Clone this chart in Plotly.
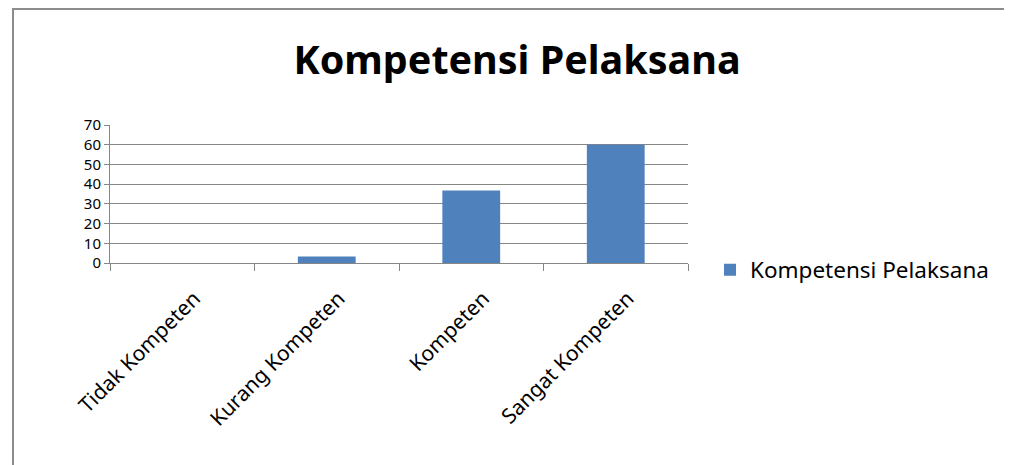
import plotly.graph_objects as go

categories = ["Tidak Kompeten", "Kurang Kompeten", "Kompeten", "Sangat Kompeten"]
values = [0, 3.3, 36.8, 60]
series_name = "Kompetensi Pelaksana"
title_text = "Kompetensi Pelaksana"

# page body adds an 8px offset; positions below are in figure coordinates
W, H = 1012, 465
OFF = 8
L, T = 110 - OFF, 125 - OFF
PR, PB = 688 - OFF, 263 - OFF
R, B = W - PR, H - PB
pw, ph = PR - L, PB - T

def px_x(x):
    return (x - OFF - L) / pw

def px_y(y):
    return (PB - (y - OFF)) / ph

fig = go.Figure()
fig.add_trace(go.Bar(
    x=categories, y=values, name=series_name,
    marker=dict(color="#4F81BD", line=dict(width=0)),
    showlegend=True,
))

fig.update_layout(
    width=W, height=H,
    margin=dict(l=L, r=R, t=T, b=B, autoexpand=False),
    paper_bgcolor="white", plot_bgcolor="white",
    bargap=0.6,
    font=dict(family="Noto Sans, DejaVu Sans, sans-serif", size=15, color="#000"),
    title=dict(text="<b>" + title_text + "</b>",
               x=(517 - OFF) / W, xanchor="center",
               y=1 - (60 - OFF) / H, yanchor="middle",
               font=dict(size=39.5, family="Noto Sans, sans-serif", color="#000")),
    showlegend=True,
    legend=dict(x=px_x(710), xanchor="left", y=px_y(270), yanchor="middle",
                font=dict(size=22.5), bgcolor="rgba(0,0,0,0)",
                itemwidth=30),
    xaxis=dict(
        type="category", range=[-0.5, 3.5], tickson="boundaries",
        ticks="outside", ticklen=7, tickcolor="#868686", tickwidth=1,
        showline=True, linecolor="#868686", linewidth=1,
        tickangle=-45, showgrid=False, tickfont=dict(size=21),
        ticklabelstandoff=14, ticklabelshift=12,
    ),
    yaxis=dict(
        range=[0, 70], dtick=10, tick0=0,
        showgrid=True, gridcolor="#868686", gridwidth=1,
        showline=True, linecolor="#868686", linewidth=1,
        ticks="outside", ticklen=5, tickcolor="#868686",
        zeroline=False, tickfont=dict(size=15),
    ),
    shapes=[
        dict(type="line", xref="paper", yref="paper",
             x0=px_x(13), x1=px_x(13), y0=px_y(8), y1=px_y(480),
             line=dict(color="#8c8c8c", width=2)),
        dict(type="line", xref="paper", yref="paper",
             x0=px_x(12), x1=px_x(1025), y0=px_y(9), y1=px_y(9),
             line=dict(color="#8c8c8c", width=2)),
    ],
)

fig.write_html("out.html")
